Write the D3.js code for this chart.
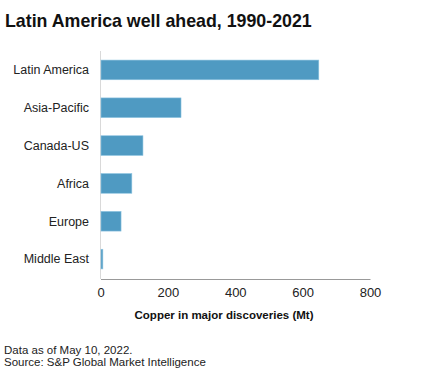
<!DOCTYPE html>
<html><head><meta charset="utf-8">
<script src="https://cdn.jsdelivr.net/npm/d3@7"></script>
<style>body{margin:0;background:#fff}svg{display:block}text{font-family:"Liberation Sans",Arial,sans-serif}</style>
</head><body>
<script>
const categories = ["Latin America","Asia-Pacific","Canada-US","Africa","Europe","Middle East"];
const values = [648, 239, 126, 93, 61, 7];
const xTicks = [0, 200, 400, 600, 800];
const title = "Latin America well ahead, 1990-2021";
const xTitle = "Copper in major discoveries (Mt)";
const notes = ["Data as of May 10, 2022.", "Source: S&P Global Market Intelligence"];

const W = 425, H = 379;
const svg = d3.select("body").append("svg").attr("width", W).attr("height", H);
const x = d3.scaleLinear().domain([0, 800]).range([100.5, 370]);
const y = d3.scaleBand().domain(categories).range([51, 278]).paddingInner(0.48).paddingOuter(0.24);

svg.append("text").attr("x", 5).attr("y", 27).attr("font-size", 17.8).attr("font-weight", "bold")
  .attr("fill", "#111").text(title);

// vertical axis line
svg.append("line").attr("x1", 100.5).attr("x2", 100.5).attr("y1", 51).attr("y2", 279)
  .attr("stroke", "#d9d9d9").attr("stroke-width", 1);

svg.append("g").selectAll("rect").data(categories).join("rect")
  .attr("x", x(0) + 0.5).attr("y", d => y(d))
  .attr("width", (d, i) => x(values[i]) - x(0) - 0.5).attr("height", y.bandwidth())
  .attr("fill", "#4f9ac2").attr("stroke", "#8cc3e0").attr("stroke-width", 0.6);

svg.append("g").selectAll("text").data(categories).join("text")
  .attr("x", 89).attr("y", d => y(d) + y.bandwidth() / 2).attr("dy", "0.35em")
  .attr("text-anchor", "end").attr("font-size", 12.5).attr("fill", "#222").text(d => d);

// x axis
const xa = svg.append("g").attr("transform", "translate(0,279)")
  .call(d3.axisBottom(x).tickValues(xTicks).tickSize(0).tickPadding(9));
xa.select(".domain").attr("stroke", "#999").attr("stroke-width", 1.2);
xa.selectAll("text").attr("font-size", 13).attr("fill", "#222")
  .attr("font-family", "'Liberation Sans',Arial,sans-serif");

svg.append("text").attr("x", 224).attr("y", 319).attr("text-anchor", "middle")
  .attr("font-size", 11.5).attr("font-weight", "bold").attr("fill", "#111").text(xTitle);

svg.append("g").selectAll("text").data(notes).join("text")
  .attr("x", 4).attr("y", (d, i) => 354 + i * 12).attr("font-size", 11.5).attr("fill", "#222").text(d => d);
</script>
</body></html>
